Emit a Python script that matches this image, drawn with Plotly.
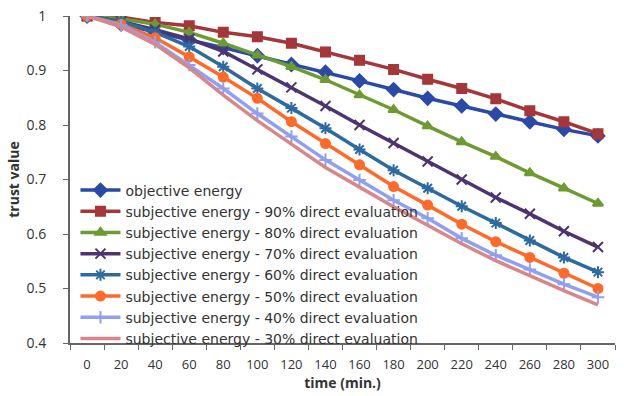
import plotly.graph_objects as go

time_min = ["0", "20", "40", "60", "80", "100", "120", "140", "160", "180", "200", "220", "240", "260", "280", "300"]

objective_energy = [1, 0.985, 0.97, 0.956, 0.942, 0.927, 0.911, 0.897, 0.881, 0.865, 0.849, 0.835, 0.820, 0.806, 0.792, 0.780]
subj_90 = [1, 0.998, 0.988, 0.982, 0.970, 0.962, 0.950, 0.934, 0.919, 0.902, 0.884, 0.867, 0.848, 0.826, 0.806, 0.784]
subj_80 = [1, 0.995, 0.985, 0.970, 0.950, 0.928, 0.907, 0.883, 0.855, 0.828, 0.798, 0.769, 0.742, 0.712, 0.684, 0.656]
subj_70 = [1, 0.990, 0.975, 0.958, 0.935, 0.902, 0.869, 0.835, 0.800, 0.767, 0.733, 0.700, 0.667, 0.637, 0.605, 0.576]
subj_60 = [1, 0.990, 0.970, 0.944, 0.907, 0.867, 0.831, 0.794, 0.755, 0.717, 0.684, 0.651, 0.620, 0.588, 0.557, 0.530]
subj_50 = [1, 0.985, 0.960, 0.925, 0.888, 0.849, 0.806, 0.766, 0.727, 0.687, 0.653, 0.618, 0.586, 0.557, 0.528, 0.500]
subj_40 = [1, 0.983, 0.952, 0.910, 0.867, 0.821, 0.779, 0.736, 0.699, 0.662, 0.629, 0.592, 0.561, 0.535, 0.508, 0.484]
subj_30 = [1, 0.980, 0.948, 0.905, 0.855, 0.808, 0.765, 0.722, 0.686, 0.650, 0.616, 0.582, 0.551, 0.523, 0.496, 0.470]

y_ticks = [0.4, 0.5, 0.6, 0.7, 0.8, 0.9, 1.0]
y_tick_text = ["0.4", "0.5", "0.6", "0.7", "0.8", "0.9", "1"]

series = [
    ("objective energy", objective_energy, "#2B4AA8", "diamond", 10),
    ("subjective energy - 90% direct evaluation", subj_90, "#A5363A", "square", 9),
    ("subjective energy - 80% direct evaluation", subj_80, "#6E9A32", "triangle-up", 9),
    ("subjective energy - 70% direct evaluation", subj_70, "#4B3470", "x-thin-open", 10),
    ("subjective energy - 60% direct evaluation", subj_60, "#2D6A9F", "asterisk-open", 10),
    ("subjective energy - 50% direct evaluation", subj_50, "#FF6A2A", "circle", 9),
    ("subjective energy - 40% direct evaluation", subj_40, "#8FA0F2", "cross-thin-open", 9),
    ("subjective energy - 30% direct evaluation", subj_30, "#D9868B", None, 0),
]

fig = go.Figure()
for name, vals, color, sym, size in series:
    if sym is None:
        fig.add_trace(go.Scatter(x=time_min, y=vals, name=name, mode="lines",
                                 line=dict(color=color, width=3.5)))
    else:
        fig.add_trace(go.Scatter(x=time_min, y=vals, name=name, mode="lines+markers",
                                 line=dict(color=color, width=3.5),
                                 marker=dict(symbol=sym, size=size, color=color,
                                             line=dict(color=color, width=2))))

fig.update_layout(
    width=624, height=396,
    margin=dict(l=70, r=9, t=16, b=53, autoexpand=False),
    paper_bgcolor="white", plot_bgcolor="white",
    font=dict(family="Open Sans, sans-serif", size=14, color="#333"),
    showlegend=True,
    legend=dict(x=0.01, y=-0.035, xanchor="left", yanchor="bottom",
                bgcolor="rgba(0,0,0,0)",
                font=dict(family="DejaVu Sans, sans-serif", size=14, color="#333"),
                tracegroupgap=0, itemwidth=40),
    xaxis=dict(type="category", range=[-0.5, 15.5], tickson="boundaries",
               ticks="outside", ticklen=5,
               tickangle=0, automargin=False, ticklabelstandoff=8,
               tickcolor="#666", showline=True, linecolor="#666", linewidth=2,
               showgrid=False, zeroline=False,
               title=dict(text="<b>time (min.)</b>", standoff=2, font=dict(size=14)),
               tickfont=dict(size=13)),
    yaxis=dict(range=[0.4, 1.0], tickvals=y_ticks, ticktext=y_tick_text,
               automargin=False,
               ticks="outside", ticklen=5, tickcolor="#666", showline=True,
               linecolor="#666", linewidth=2, showgrid=False, zeroline=False,
               ticklabelstandoff=14,
               title=dict(text="<b>trust value</b>", standoff=4, font=dict(size=14)),
               tickfont=dict(size=14)),
)

fig.write_html("out.html")
